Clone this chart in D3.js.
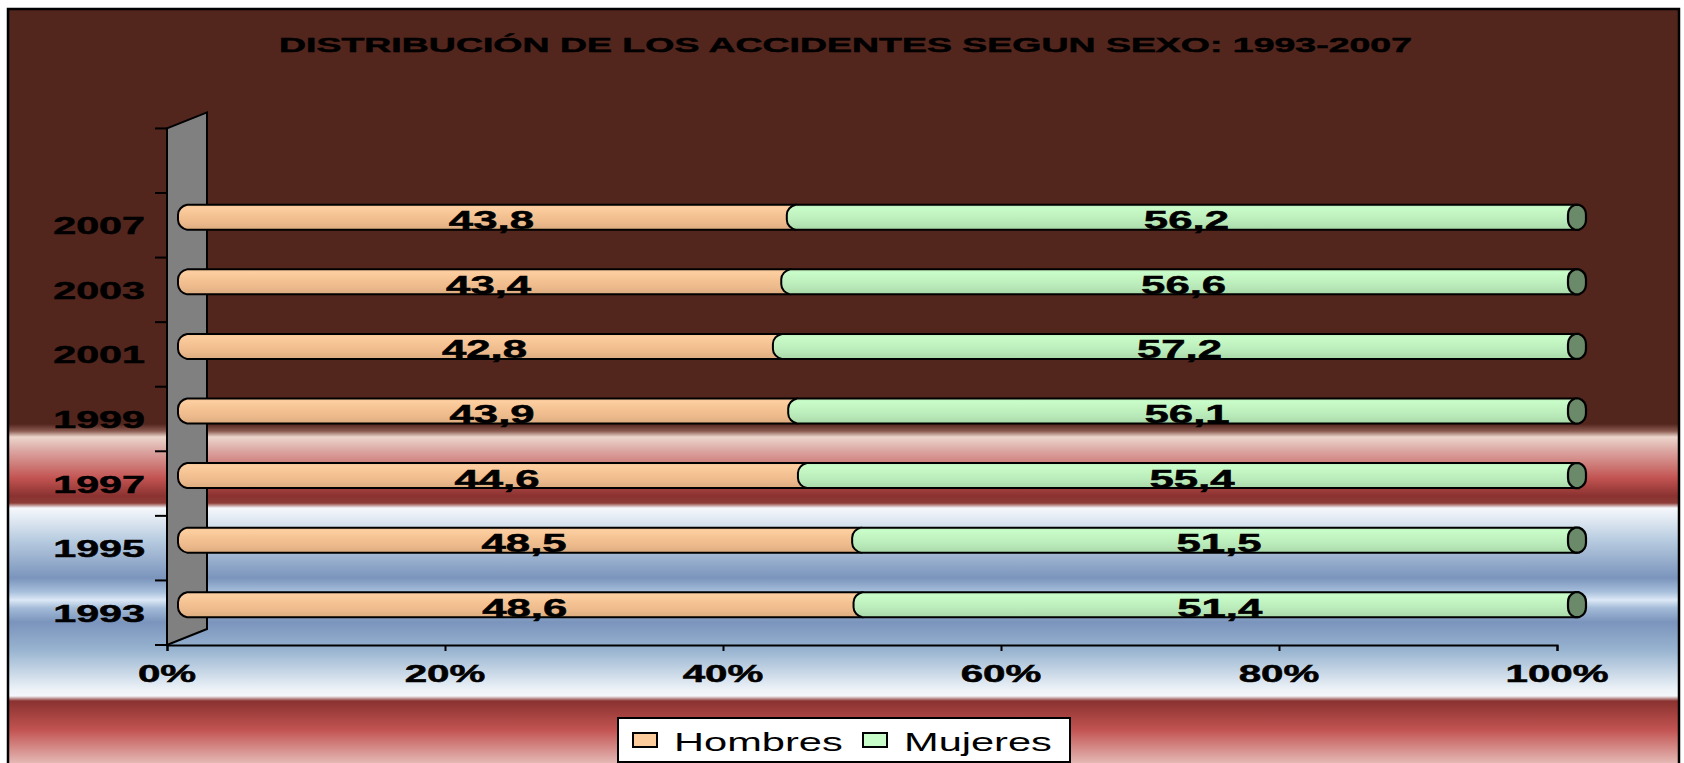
<!DOCTYPE html>
<meta charset="utf-8">
<style>
    body { margin: 0; background: white; }
    text { font-family: "Liberation Sans", Arial, sans-serif; fill: black; }
    text.heavy { stroke: black; stroke-width: 0.5px; }
</style>

<body>
    <svg id="chart" width="1684" height="763"></svg>
    <script src="https://d3js.org/d3.v7.min.js"></script>
    <script>
        const years = ["1993", "1995", "1997", "1999", "2001", "2003", "2007"];
        const hombres = [48.6, 48.5, 44.6, 43.9, 42.8, 43.4, 43.8];
        const mujeres = [51.4, 51.5, 55.4, 56.1, 57.2, 56.6, 56.2];
        const xTicks = [0, 20, 40, 60, 80, 100];
        const seriesNames = ["Hombres", "Mujeres"];

        const svg = d3.select("#chart");
        const defs = svg.append("defs");

        // background preset gradient (brown top, chrome-like bands below)
        const bgStops = [
            [0, "#52251d"], [424, "#52251d"], [431, "#8a5a50"], [437, "#ecd6cc"],
            [450, "#dca8a4"], [478, "#c25452"], [496, "#8a3230"], [503, "#8e3c38"],
            [508, "#f6f8fc"], [540, "#b8cce0"], [578, "#7a94bc"], [592, "#a8c0dc"],
            [600, "#dce8f6"], [608, "#a4bcd8"], [622, "#7a94bc"], [650, "#98b4d0"],
            [690, "#eef3f8"], [696, "#f4f6fa"], [701, "#8a3230"], [730, "#c25452"],
            [763, "#e4b8b4"]
        ];
        const bg = defs.append("linearGradient").attr("id", "bg")
            .attr("gradientUnits", "userSpaceOnUse")
            .attr("x1", 0).attr("y1", 0).attr("x2", 0).attr("y2", 763);
        bgStops.forEach(s => bg.append("stop").attr("offset", s[0] / 763).attr("stop-color", s[1]));

        function barGrad(id, stops) {
            const g = defs.append("linearGradient").attr("id", id)
                .attr("x1", 0).attr("y1", 0).attr("x2", 0).attr("y2", 1);
            stops.forEach(s => g.append("stop").attr("offset", s[0]).attr("stop-color", s[1]));
        }
        barGrad("gOrange", [[0, "#f4c496"], [0.12, "#fccea0"], [0.45, "#f4c292"], [0.75, "#eab88a"], [1, "#dcac7e"]]);
        barGrad("gGreen", [[0, "#bcecbc"], [0.12, "#c8fcc8"], [0.45, "#c0f2c0"], [0.75, "#b6e6b6"], [1, "#a8d8a8"]]);

        svg.append("rect")
            .attr("x", 8).attr("y", 9).attr("width", 1671).attr("height", 762)
            .attr("fill", "url(#bg)").attr("stroke", "black").attr("stroke-width", 2.5);

        // stretched text helper (the original picture is widened horizontally)
        function label(g, x, y, txt, size, weight, anchor, sx) {
            g.append("text")
                .attr("class", weight === "bold" ? "heavy" : null)
                .attr("transform", `translate(${x},${y}) scale(${sx},1)`)
                .attr("text-anchor", anchor)
                .attr("font-size", size)
                .attr("font-weight", weight)
                .text(txt);
        }

        svg.append("text")
            .attr("class", "heavy")
            .attr("x", 279).attr("y", 52)
            .attr("textLength", 1133).attr("lengthAdjust", "spacingAndGlyphs")
            .attr("font-size", 21).attr("font-weight", "bold")
            .text("DISTRIBUCIÓN DE LOS ACCIDENTES SEGUN SEXO: 1993-2007");

        const x = d3.scaleLinear().domain([0, 100]).range([167, 1557]);
        const y = d3.scaleBand().domain(years).range([645, 193]);
        const step = y.step();
        const dx = 40, dy = -16;
        const wallTop = 193 - step;

        // side wall
        svg.append("path")
            .attr("d", `M${x(0)},${wallTop} L${x(0) + dx},${wallTop + dy} L${x(0) + dx},${645 + dy} L${x(0)},645 Z`)
            .attr("fill", "#808080").attr("stroke", "black").attr("stroke-width", 2);

        // category ticks
        const catTicks = d3.range(years.length + 2).map(i => 645 - i * step);
        svg.append("g").selectAll("line").data(catTicks).join("line")
            .attr("x1", x(0) - 12).attr("x2", x(0)).attr("y1", d => d).attr("y2", d => d)
            .attr("stroke", "black").attr("stroke-width", 2);

        // value axis
        const xAxis = svg.append("g").attr("transform", "translate(0,645)")
            .call(d3.axisBottom(x).tickValues(xTicks).tickSize(6).tickFormat(""));
        xAxis.select(".domain").attr("stroke", "black").attr("stroke-width", 2);
        xAxis.selectAll(".tick line").attr("stroke", "black").attr("stroke-width", 2);
        xTicks.forEach(t => label(svg, x(t), 682, t + "%", 24, "bold", "middle", 1.68));

        years.forEach(yr => label(svg, 145, y(yr) + step / 2 + 9, yr, 24, "bold", "end", 1.72));

        // bars
        const bh = 25, off = dx / 2;
        function segPath(x0, x1, top, bot) {
            return `M${x1},${top} L${x0},${top} C${x0 - 5},${top + 1} ${x0 - 9},${top + 5} ${x0 - 9},${top + 10}` +
                ` L${x0 - 9},${bot - 10} C${x0 - 9},${bot - 5} ${x0 - 5},${bot - 1} ${x0},${bot} L${x1},${bot} Z`;
        }
        function capPath(cx, top, bot) {
            return `M${cx - 2},${top} L${cx + 2},${top} C${cx + 7},${top + 2} ${cx + 9},${top + 6} ${cx + 9},${top + 10}` +
                ` L${cx + 9},${bot - 10} C${cx + 9},${bot - 6} ${cx + 7},${bot - 2} ${cx + 2},${bot}` +
                ` L${cx - 2},${bot} C${cx - 7},${bot - 2} ${cx - 9},${bot - 6} ${cx - 9},${bot - 10}` +
                ` L${cx - 9},${top + 10} C${cx - 9},${top + 6} ${cx - 7},${top + 2} ${cx - 2},${top} Z`;
        }

        const bars = svg.append("g");
        years.forEach((yr, i) => {
            const cy = y(yr) + step / 2 + dy / 2;
            const top = cy - bh / 2, bot = cy + bh / 2;
            const x0 = x(0) + off, x1 = x(hombres[i]) + off, x2 = x(100) + off;
            bars.append("path").attr("d", segPath(x0, x1, top, bot))
                .attr("fill", "url(#gOrange)").attr("stroke", "black").attr("stroke-width", 2);
            bars.append("path").attr("d", segPath(x1, x2, top, bot))
                .attr("fill", "url(#gGreen)").attr("stroke", "black").attr("stroke-width", 2);
            bars.append("path").attr("d", capPath(x2, top, bot))
                .attr("fill", "#6a8a6a").attr("stroke", "black").attr("stroke-width", 2.2);
            label(bars, (x0 + x1) / 2, cy + 12, hombres[i].toFixed(1).replace(".", ","), 25, "bold", "middle", 1.75);
            label(bars, (x1 + x2) / 2, cy + 12, mujeres[i].toFixed(1).replace(".", ","), 25, "bold", "middle", 1.75);
        });

        // legend
        const leg = svg.append("g");
        leg.append("rect").attr("x", 618).attr("y", 718).attr("width", 452).attr("height", 44)
            .attr("fill", "white").attr("stroke", "black").attr("stroke-width", 2);
        const legX = [633, 863];
        const legFill = ["#fccc9c", "#c8fcc8"];
        seriesNames.forEach((n, i) => {
            leg.append("rect").attr("x", legX[i]).attr("y", 733).attr("width", 24).attr("height", 14)
                .attr("fill", legFill[i]).attr("stroke", "black").attr("stroke-width", 2);
            label(leg, legX[i] + 41, 751, n, 26, "normal", "start", 1.6);
        });
    </script>
</body>

</html>
